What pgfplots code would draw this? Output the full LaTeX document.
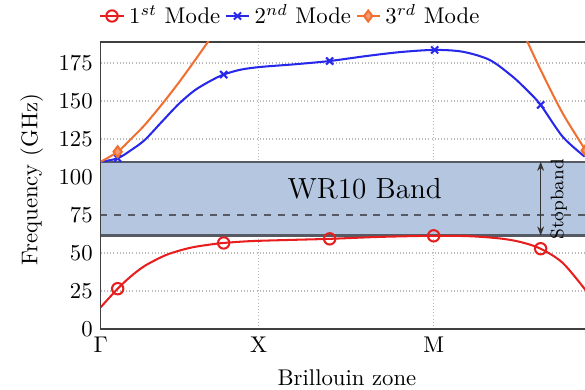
\documentclass[border=0pt]{standalone}
\usepackage{pgfplots}
\pgfplotsset{compat=1.18}
\usetikzlibrary{arrows.meta}
\definecolor{myred}{RGB}{232,30,30}
\definecolor{myblue}{RGB}{40,40,235}
\definecolor{myorange}{RGB}{240,112,50}
\definecolor{bandfill}{RGB}{180,198,224}
\definecolor{bandedge}{RGB}{85,90,100}
\begin{document}
\begin{tikzpicture}
\begin{axis}[
  at={(0,0)}, anchor=south west,
  scale only axis,
  clip mode=individual,
  width=228.8pt, height=126.4pt,
  xmin=0, xmax=520, ymin=0, ymax=189,
  xtick={0,158,333}, xticklabels={$\Gamma$,X,M},
  ytick={0,25,50,75,100,125,150,175},
  major tick length=0pt,
  grid=major,
  grid style={densely dotted, gray!55, line width=0.6pt},
  axis line style={gray!50!black, line width=0.7pt},
  legend columns=-1,
  legend style={draw=none, fill=none, at={(axis cs:191,205.9)}, anchor=center},
  legend image code/.code={\draw[mark repeat=2,mark phase=2,#1] plot coordinates {(0cm,0cm) (0.18cm,0cm) (0.36cm,0cm)};},
]
% band
\addplot[draw=none, fill=bandfill, forget plot] coordinates {(0,61.5) (520,61.5) (520,110) (0,110)} -- cycle;
\addplot[bandedge, line width=0.9pt, forget plot] coordinates {(0,110) (520,110)};
\addplot[bandedge, line width=0.9pt, forget plot] coordinates {(0,61.5) (520,61.5)};
\addplot[bandedge, dashed, line width=0.7pt, forget plot] coordinates {(0,75) (520,75)};
% 1st mode
\addplot[myred, line width=0.9pt, smooth, tension=0.5, mark=o, mark size=2.5pt, mark indices={2,9,12,14,18}] coordinates {
(0,14.3) (17,26.5) (30,34.5) (44,41.5) (64,48.3) (80,51.8) (94,54) (110,55.6) (123,56.6) (150,57.8) (190,58.6) (229,59.3) (280,60.6) (333,61.3) (370,61) (400,59.5) (420,57.2) (440,52.8) (462,43.5) (485,25.5)};
\addlegendentry{$1^{st}$ Mode}
% 2nd mode
\addplot[myblue, line width=0.9pt, smooth, tension=0.5, mark=x, mark size=2.2pt, mark indices={2,9,13,16,21}] coordinates {
(0,110) (17,112.3) (30,117.5) (44,124.3) (61,136.2) (78,148) (94,157) (110,163.3) (123,167.4) (140,170.6) (160,172.4) (195,174.2) (229,176.3) (266,179.6) (300,182.2) (334,183.6) (362,182.4) (389,177) (412,166) (428,156) (440,147.4) (462,126.5) (484,113.4)};
\addlegendentry{$2^{nd}$ Mode}
% 3rd mode
\addplot[myorange, line width=0.9pt, smooth, tension=0.5, mark=diamond*, mark size=2.4pt, mark options={fill=myorange!70}, mark indices={2}] coordinates {
(0,110) (17,116.6) (30,124.8) (44,134.2) (61,147.6) (78,162) (94,176.5) (110,191.5) (125,206)};
\addlegendentry{$3^{rd}$ Mode}
\addplot[myorange, line width=0.9pt, smooth, tension=0.5, mark=diamond*, mark size=2.4pt, mark options={fill=myorange!70}, mark indices={3}, forget plot] coordinates {
(415,205) (426,190) (440,170.4) (462,141.9) (485,117.5)};
% annotations
\node[font=\fontsize{12.8}{14}\selectfont] at (axis cs:264,92) {WR10 Band};
\draw[{Stealth[length=4pt]}-{Stealth[length=4pt]}, black!80, line width=0.6pt] (axis cs:440,110) -- (axis cs:440,61.5);
\node[rotate=90, font=\footnotesize] at (axis cs:458,85.4) {Stopband};
\node[yshift=-21.4pt] at (axis cs:246.3,0) {Brillouin zone};
\node[rotate=90, yshift=30.4pt] at (axis cs:0,98.2) {Frequency (GHz)};
\end{axis}
\pgfresetboundingbox
\useasboundingbox (-44.3pt,-26.7pt) rectangle (213.1pt,144.75pt);
\end{tikzpicture}
\end{document}
